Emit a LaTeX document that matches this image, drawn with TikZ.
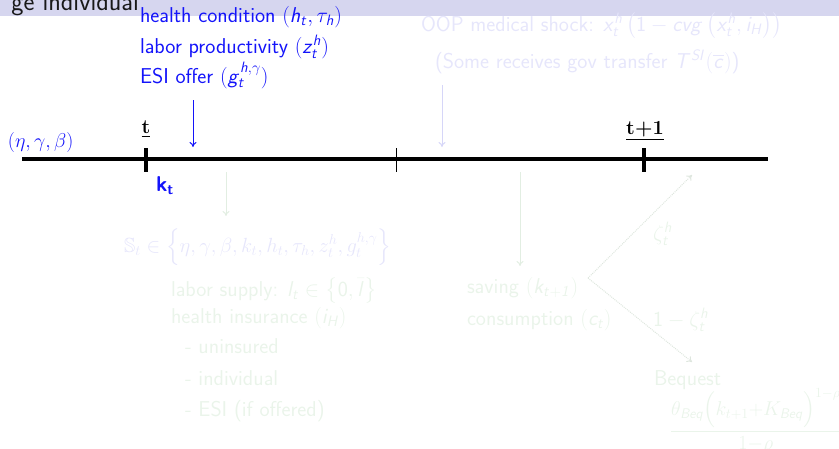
\RequirePackage{fix-cm}
\documentclass[tikz,border=0pt]{standalone}
\usepackage{amsmath,amssymb}
\usepackage{fontspec}
\DeclareMathAlphabet{\mathsfit}{OT1}{cmss}{m}{sl}
\usetikzlibrary{arrows.meta}
\definecolor{barcol}{RGB}{214,214,239}
\definecolor{mblue}{RGB}{20,20,250}
\definecolor{fblue}{RGB}{230,230,251}
\definecolor{fbluel}{RGB}{214,214,248}
\definecolor{fgreen}{RGB}{234,244,234}
\definecolor{fgreenl}{RGB}{226,238,226}
\definecolor{fdot}{RGB}{222,230,222}
\newcommand\fs{\fontsize{21.5}{26}\selectfont\sffamily}
\tikzset{
  every node/.style={inner sep=0pt, outer sep=0pt, font=\fs},
  lab/.style={anchor=base west},
  btxt/.style={lab, text=mblue},
  fbtxt/.style={lab, text=fblue},
  fgtxt/.style={lab, text=fgreen},
  tick/.style={line width=4.5pt},
  tlab/.style={anchor=base, font=\fontsize{20}{24}\selectfont\rmfamily\bfseries},
  thinarrow/.style={line width=1pt, -{To[length=5pt,width=7pt]}},
  dotarrow/.style={fdot, line width=1pt, densely dotted, -{To[length=5pt,width=7pt]}},
}
\begin{document}
\begin{tikzpicture}[x=1pt,y=-1pt]
\useasboundingbox (0,0) rectangle (839,448);
% title bar
\fill[barcol] (0,0) rectangle (839,16);
\node[anchor=base east, font=\fontsize{26}{30}\selectfont\sffamily, text=black!90] (title) at (139,10) {ge individual};
% blue information
\node[btxt] (hc) at (140,22) {health condition $(\mathsfit{h_t},\tau_{\mathsfit{h}})$};
\node[btxt] (lp) at (140,53) {labor productivity $(\mathsfit{z}_{\mathsfit{t}}^{\mathsfit{h}})$};
\node[btxt] (esi) at (140,83) {ESI offer $(\mathsfit{g}_{\mathsfit{t}}^{\mathsfit{h},\gamma})$};
% timeline
\coordinate (L) at (22,159);
\coordinate (R) at (768,159);
\draw[line width=4pt] (L) -- (R);
\coordinate (t0a) at (146,148); \coordinate (t0b) at (146,172);
\coordinate (t1a) at (644,148); \coordinate (t1b) at (644,172);
\coordinate (tma) at (396,148); \coordinate (tmb) at (396,172);
\draw[tick] (t0a) -- (t0b);
\draw[tick] (t1a) -- (t1b);
\draw[line width=0.8pt] (tma) -- (tmb);
\node[tlab] (tl) at (146,133) {\underline{t}};
\node[tlab] (t1l) at (645,134) {\underline{t+1}};
\node[btxt, font=\fontsize{20}{24}\selectfont] (egb) at (8,147) {$(\eta,\gamma,\beta)$};
\node[btxt, font=\fs\bfseries] (kt) at (156,191) {k\textsubscript{\fontsize{15}{17}\selectfont t}};
% blue arrow
\coordinate (ba1) at (193,100); \coordinate (ba2) at (193,147);
\draw[thinarrow, mblue] (ba1) -- (ba2);
% faded blue shock
\node[fbtxt] (oop) at (421,31) {OOP medical shock: $\mathsfit{x}_{\mathsfit{t}}^{\mathsfit{h}}\left(\mathsf{1}-\mathsfit{cvg}\left(\mathsfit{x}_{\mathsfit{t}}^{\mathsfit{h}},\mathsfit{i}_{\mathsfit{H}}\right)\right)$};
\node[fbtxt] (gov) at (435,68) {(Some receives gov transfer $\mathsfit{T}^{\mathsfit{SI}}(\overline{\mathsfit{c}})$)};
\coordinate (fa1) at (442,85); \coordinate (fa2) at (442,147);
\draw[thinarrow, fbluel] (fa1) -- (fa2);
% state
\coordinate (ga1) at (226,172); \coordinate (ga2) at (226,216);
\draw[thinarrow, fgreenl] (ga1) -- (ga2);
\node[fbtxt, font=\fontsize{20.5}{24}\selectfont] (st) at (124,252) {$\mathbb{S}_t\in\left\{\eta,\gamma,\beta,k_t,h_t,\tau_h,z_t^h,g_t^{h,\gamma}\right\}$};
% choices
\node[fgtxt] (ls) at (171,296) {labor supply: $\mathsfit{l_t}\in\left\{\mathsf{0},\bar{\mathsfit{l}}\right\}$};
\node[fgtxt] (hi) at (171,323) {health insurance $(\mathsfit{i}_{\mathsfit{H}})$};
\node[fgtxt] (un) at (185,353) {- uninsured};
\node[fgtxt] (ind) at (185,385) {- individual};
\node[fgtxt] (esio) at (185,416) {- ESI (if offered)};
% saving
\coordinate (sa1) at (520,172); \coordinate (sa2) at (520,266);
\draw[thinarrow, fgreenl] (sa1) -- (sa2);
\node[fgtxt] (sav) at (467,293) {saving $\left(\mathsfit{k}_{\mathsfit{t+1}}\right)$};
\node[fgtxt] (con) at (467,325) {consumption $\left(\mathsfit{c}_{\mathsfit{t}}\right)$};
\coordinate (br) at (588,278);
\coordinate (up) at (692,175);
\coordinate (dn) at (692,362);
\draw[dotarrow] (br) -- (up);
\draw[dotarrow] (br) -- (dn);
\node[fgtxt] (z1) at (653,240) {$\zeta_{\mathsfit{t}}^{\mathsfit{h}}$};
\node[fgtxt] (z2) at (653,326) {$\mathsf{1}-\zeta_{\mathsfit{t}}^{\mathsfit{h}}$};
\node[fgtxt] (beq) at (654,385) {Bequest};
\node[anchor=west, text=fgreen, font=\fontsize{20}{24}\selectfont] (frac) at (670,421) {$\displaystyle\frac{\theta_{\mathsfit{Beq}}\Bigl(k_{t+1}{+}K_{\mathsfit{Beq}}\Bigr)^{1-\rho}}{1{-}\rho}$};
\end{tikzpicture}
\end{document}
